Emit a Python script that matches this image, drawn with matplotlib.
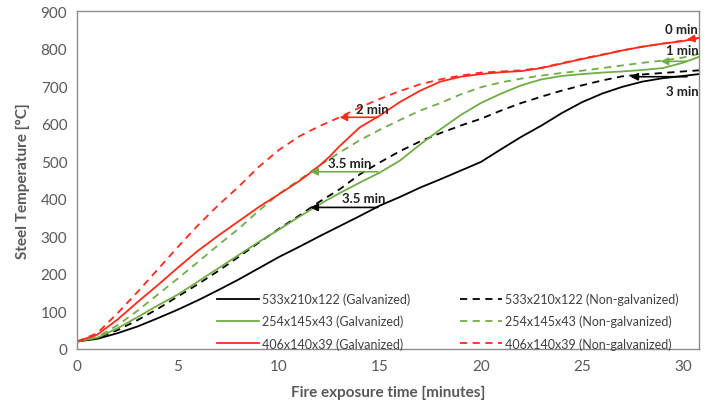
import matplotlib.pyplot as plt
import numpy as np

plt.rcParams['font.family'] = ['Lato', 'DejaVu Sans']

# Data (time in minutes, temperature in deg C)
t_black = [0, 1, 2, 3, 4, 5, 6, 7, 8, 9, 10, 11, 12, 13, 14, 15, 16, 17, 18, 19, 20,
           21, 22, 23, 24, 25, 26, 27, 28, 29, 30, 30.8]
black_galv = [20, 27, 42, 60, 82, 105, 130, 157, 185, 215, 245, 272, 300, 327, 354, 382,
              405, 430, 452, 475, 498, 532, 565, 595, 628, 657, 680, 698, 712, 721, 727, 732]
black_non = [20, 30, 50, 77, 107, 140, 173, 208, 245, 283, 320, 355, 392, 425, 465, 497,
             527, 553, 575, 595, 613, 635, 655, 672, 688, 702, 715, 726, 731, 735, 739, 742]

t_green = [0, 1, 2, 3, 4, 5, 6, 7, 8, 9, 10, 11, 12, 13, 14, 15, 16, 17, 18, 19, 20,
           21, 22, 23, 24, 25, 26, 27, 28, 29, 30, 30.8]
green_galv = [20, 30, 55, 85, 116, 145, 180, 215, 250, 285, 318, 352, 385, 415, 443, 470,
              502, 545, 585, 623, 655, 680, 702, 718, 727, 732, 736, 739, 743, 748, 762, 778]
green_non = [20, 32, 63, 102, 145, 188, 232, 277, 320, 368, 413, 450, 488, 523, 556, 584,
             610, 635, 655, 678, 697, 710, 720, 728, 735, 741, 748, 755, 762, 768, 776, 786]

t_red = [0, 1, 2, 3, 4, 5, 6, 7, 8, 9, 10, 11, 11.5, 12, 12.5, 13, 13.5, 14, 15, 16, 17,
         18, 19, 20, 21, 22, 23, 24, 25, 26, 27, 28, 29, 30, 30.8]
red_galv = [20, 38, 78, 125, 170, 217, 262, 302, 340, 378, 412, 447, 467, 488, 512, 540,
            565, 590, 622, 658, 688, 712, 725, 732, 737, 740, 748, 760, 772, 783, 795, 805,
            813, 820, 828]
red_non = [20, 42, 95, 152, 212, 272, 330, 383, 432, 485, 530, 566, 580, 593, 605, 617,
           630, 643, 666, 687, 705, 718, 728, 736, 739, 742, 749, 761, 773, 784, 795, 805,
           813, 821, 829]

labels = ['533x210x122 (Galvanized)', '533x210x122 (Non-galvanized)',
          '254x145x43 (Galvanized)', '254x145x43 (Non-galvanized)',
          '406x140x39 (Galvanized)', '406x140x39 (Non-galvanized)']

# Delay annotations: text, text position, arrow start, arrow end, colour
notes = [
    ('0 min', (29.95, 852), (30.8, 828), (30.2, 824), 'red'),
    ('1 min', (29.95, 795), (30.2, 766), (28.9, 766), 'green'),
    ('3 min', (29.95, 687), (30.2, 725), (27.4, 725), 'black'),
    ('2 min', (14.6, 639), (14.9, 617), (13.0, 617), 'red'),
    ('3.5 min', (13.5, 495), (14.9, 472), (11.55, 472), 'green'),
    ('3.5 min', (14.2, 402), (14.9, 377), (11.55, 377), 'black'),
]

c_black = '#000000'
c_green = '#70AD47'
c_red = '#FF2A1A'
cmap = {'black': c_black, 'green': c_green, 'red': c_red}
gray = '#595959'

fig = plt.figure(figsize=(7.09, 4.10), dpi=100)
ax = fig.add_axes([77 / 709, 60 / 410, 622 / 709, 338 / 410])

dash = (0, (4, 3))
l1, = ax.plot(t_black, black_galv, color=c_black, lw=1.3)
l2, = ax.plot(t_black, black_non, color=c_black, lw=1.3, ls=dash)
l3, = ax.plot(t_green, green_galv, color=c_green, lw=1.3)
l4, = ax.plot(t_green, green_non, color=c_green, lw=1.3, ls=dash)
l5, = ax.plot(t_red, red_galv, color=c_red, lw=1.3)
l6, = ax.plot(t_red, red_non, color=c_red, lw=1.3, ls=dash)

for txt, tpos, a0, a1, c in notes:
    ax.text(tpos[0], tpos[1], txt, fontsize=9.5, fontweight='bold', color='#222222',
            ha='center', va='center')
    ax.annotate('', xy=a1, xytext=a0,
                arrowprops=dict(arrowstyle='-|>', color=cmap[c], lw=1.2,
                                mutation_scale=11, shrinkA=0, shrinkB=0))

ax.set_xlim(0, 30.8)
ax.set_ylim(0, 900)
ax.set_xticks([0, 5, 10, 15, 20, 25, 30])
ax.set_yticks(np.arange(0, 901, 100))
ax.tick_params(length=0, labelsize=11, colors=gray, pad=7)
for s in ax.spines.values():
    s.set_color('#8c8c8c')
    s.set_linewidth(1.0)

ax.set_xlabel('Fire exposure time [minutes]', fontsize=11, fontweight='bold',
              color=gray, labelpad=9)
ax.set_ylabel('Steel Temperature [°C]', fontsize=11, fontweight='bold',
              color=gray, labelpad=8)

# column-wise fill: galvanized on the left, non-galvanized on the right
leg = ax.legend([l1, l3, l5, l2, l4, l6],
                [labels[0], labels[2], labels[4], labels[1], labels[3], labels[5]],
                ncol=2, loc='lower right', bbox_to_anchor=(0.985, -0.035), frameon=False,
                fontsize=9, handlelength=3.4, handletextpad=0.2, labelspacing=0.78,
                columnspacing=4.0)
for t in leg.get_texts():
    t.set_color('#404040')

fig.savefig('out.png', dpi=100)
